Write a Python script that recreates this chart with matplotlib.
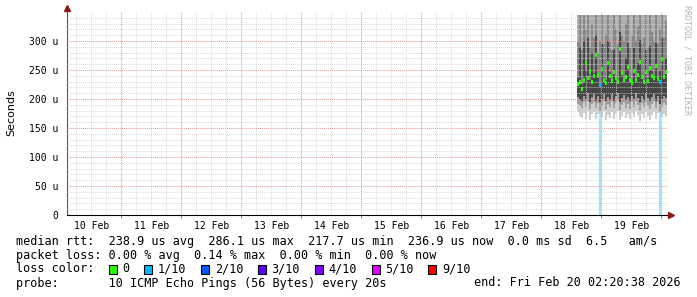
import pandas as pd
import matplotlib
matplotlib.use('Agg')
import matplotlib.pyplot as plt
import matplotlib.dates as mdates
from matplotlib.ticker import FixedLocator, FuncFormatter
from matplotlib.patches import Rectangle

# smokeping data, one column per ~48 min step, values in microseconds
median_us = [226, 229, 218, 233, 262, 237, 248, 230, 240, 276, 241, 224, 251, 233, 228,
             262, 239, 231, 247, 236, 229, 286, 245, 232, 238, 255, 233, 227, 249, 232,
             242, 263, 238, 229, 246, 231, 254, 240, 236, 257, 234, 230, 269, 238, 246]
loss_tenths = [0, 0, 0, 0, 0, 0, 0, 0, 0, 0, 0, 1, 0, 0, 0,
               0, 0, 0, 0, 0, 0, 0, 0, 0, 0, 0, 0, 0, 0, 0,
               0, 0, 0, 0, 0, 0, 0, 0, 0, 0, 0, 1, 0, 0, 0]
smoke_lo = [178, 170, 168, 176, 165, 180, 163, 174, 177, 166, 175, 160, 169, 179, 164,
            173, 168, 178, 166, 175, 180, 163, 171, 177, 167, 174, 165, 176, 169, 179,
            172, 162, 175, 168, 177, 170, 164, 173, 178, 166, 176, 158, 169, 175, 171]
smoke_q1 = [192, 188, 185, 194, 186, 197, 182, 191, 195, 184, 193, 180, 188, 197, 183,
            191, 186, 196, 184, 193, 198, 181, 189, 195, 185, 192, 183, 194, 187, 197,
            190, 181, 193, 186, 195, 188, 182, 191, 196, 184, 194, 178, 187, 193, 190]
smoke_q2 = [204, 198, 196, 206, 199, 210, 195, 203, 208, 197, 205, 194, 200, 209, 196,
            203, 199, 208, 197, 205, 211, 195, 201, 207, 198, 204, 196, 206, 200, 210,
            202, 195, 205, 198, 208, 201, 196, 203, 208, 197, 206, 192, 200, 205, 202]
smoke_q3 = [236, 290, 226, 300, 250, 305, 232, 280, 245, 310, 236, 228, 295, 238, 232,
            300, 246, 234, 285, 240, 232, 315, 248, 236, 270, 296, 238, 230, 288, 236,
            262, 302, 242, 232, 284, 236, 292, 248, 238, 296, 236, 248, 305, 242, 270]
smoke_q4 = [300, 345, 285, 345, 320, 345, 290, 330, 305, 345, 280, 300, 345, 295, 310,
            345, 300, 285, 345, 320, 295, 345, 310, 300, 330, 345, 290, 310, 345, 300,
            325, 345, 295, 305, 345, 290, 345, 315, 300, 345, 295, 320, 345, 305, 335]
smoke_hi = [345, 345, 345, 345, 345, 345, 345, 345, 345, 345, 345, 345, 345, 345, 345,
            345, 345, 345, 345, 345, 345, 345, 345, 345, 345, 345, 345, 345, 345, 345,
            345, 345, 345, 345, 345, 345, 345, 345, 345, 345, 345, 345, 345, 345, 345]

loss_names = ['0', '1/10', '2/10', '3/10', '4/10', '5/10', '9/10']
loss_colors = ['#26ff00', '#00b8ff', '#0059ff', '#5e00ff', '#7e00ff', '#dd00ff', '#ff0000']

end = pd.Timestamp('2026-02-20 02:20:38')
start = end - pd.Timedelta(days=10)
step = pd.Timedelta(minutes=48)
times = pd.date_range(end=end - step, periods=len(median_us), freq=step)
t = mdates.date2num(times)
w = step / pd.Timedelta(days=1)

W, H = 697, 297
fig = plt.figure(figsize=(W / 100, H / 100), dpi=100)
ax = fig.add_axes([67 / W, 1 - 215 / H, 600 / W, 203 / H])
ax.set_xlim(mdates.date2num(start), mdates.date2num(end))
ax.set_ylim(0, 350)

# grid (drawn over the smoke, like rrdtool)
for y in range(10, 350, 10):
    if y % 50:
        ax.axhline(y, color='#d2d2d2', lw=0.7, ls=(0, (1, 1)), zorder=3, alpha=0.8)
    else:
        ax.axhline(y, color='#e49494', lw=0.7, ls=(0, (1, 1)), zorder=3)
for d in pd.date_range('2026-02-10 06:00', end, freq='6h'):
    if d.hour:
        ax.axvline(mdates.date2num(d), color='#d2d2d2', lw=0.7, ls=(0, (1, 1)),
                   zorder=3, alpha=0.8)
    else:
        ax.axvline(mdates.date2num(d), color='#e49494', lw=0.7, ls=(0, (1, 1)), zorder=3)

# smoke
bands = [(smoke_lo, smoke_q1, '#cecece'), (smoke_q1, smoke_q2, '#9e9e9e'),
         (smoke_q2, smoke_q3, '#474747'), (smoke_q3, smoke_q4, '#878787'),
         (smoke_q4, smoke_hi, '#adadad')]
for lo, hi, c in bands:
    ax.bar(t, [h - l for l, h in zip(lo, hi)], bottom=lo, width=w, align='edge',
           color=c, linewidth=0, zorder=2)

# loss markers
for ti, l, q in zip(t, loss_tenths, smoke_q1):
    if l:
        ax.vlines(ti + w / 2, 0, q, color='#a6e2f7', lw=1.6, zorder=3.5)

# median
med_colors = [loss_colors[l] for l in loss_tenths]
ax.hlines(median_us, t, t + w, colors=med_colors, lw=3, zorder=4)

# axes
for s in ['top', 'right']:
    ax.spines[s].set_visible(False)
ax.spines['left'].set_color('#555555')
ax.spines['bottom'].set_color('black')
ax.spines['bottom'].set_zorder(5)
ax.plot([1.006], [0], marker='>', color='#8b1a1a', ms=4, transform=ax.transAxes, clip_on=False)
ax.plot([0], [1.02], marker='^', color='#8b1a1a', ms=4, transform=ax.transAxes, clip_on=False)

ax.yaxis.set_major_locator(FixedLocator([0, 50, 100, 150, 200, 250, 300]))
ax.yaxis.set_major_formatter(FuncFormatter(lambda v, p: '0' if v == 0 else '%d u' % v))
ax.tick_params(axis='y', length=0, pad=6, labelsize=7)
noons = pd.date_range('2026-02-10 12:00', '2026-02-19 12:00', freq='D')
ax.set_xticks(mdates.date2num(noons), [d.strftime('%d Feb') for d in noons])
ax.tick_params(axis='x', length=0, pad=4, labelsize=7)
mids = pd.date_range('2026-02-11', '2026-02-20', freq='D')
ax.set_xticks(mdates.date2num(mids), minor=True)
ax.tick_params(axis='x', which='minor', length=2, color='#d04040')
for lab in ax.get_xticklabels() + ax.get_yticklabels():
    lab.set_family('DejaVu Sans Mono')

fig.text(11 / W, 1 - 113 / H, 'Seconds', rotation=90, ha='center', va='center',
         fontsize=8, family='DejaVu Sans')
fig.text(687 / W, 1 - 5 / H, 'RRDTOOL / TOBI OETIKER', rotation=-90, ha='center',
         va='top', fontsize=6, family='DejaVu Sans Mono', color='#b4b4b4')

# legend
cw = 7.1
mono = dict(family='DejaVu Sans Mono', fontsize=8.5, va='center', ha='left')
fig.text(16 / W, 1 - 241 / H,
         'median rtt:  238.9 us avg  286.1 us max  217.7 us min  236.9 us now  0.0 ms sd  6.5   am/s',
         **mono)
fig.text(16 / W, 1 - 255 / H,
         'packet loss: 0.00 % avg  0.14 % max  0.00 % min  0.00 % now', **mono)
fig.text(16 / W, 1 - 269 / H, 'loss color:', **mono)
col = 13
for name, c in zip(loss_names, loss_colors):
    x0 = 16 + col * cw + 0.5
    fig.patches.append(Rectangle((x0 / W, 1 - 273.5 / H), 8 / W, 9 / H, facecolor=c,
                                 edgecolor='black', lw=0.8, transform=fig.transFigure))
    fig.text((16 + (col + 2) * cw) / W, 1 - 269 / H, name, **mono)
    col += 2 + len(name) + 2
fig.text(16 / W, 1 - 283 / H, 'probe:       10 ICMP Echo Pings (56 Bytes) every 20s', **mono)
fig.text(681 / W, 1 - 283 / H, 'end: Fri Feb 20 02:20:38 2026',
         **{**mono, 'ha': 'right'})

fig.savefig('out.png', dpi=100, facecolor='white')
